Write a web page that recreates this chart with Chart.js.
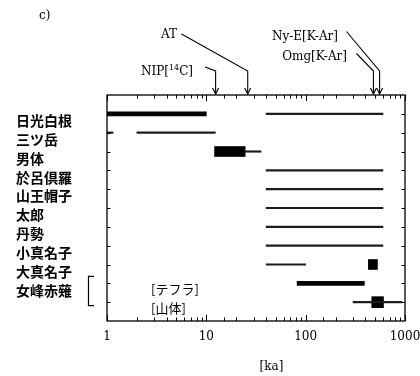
<!DOCTYPE html>
<html>
<head>
<meta charset="utf-8">
<script src="https://cdn.jsdelivr.net/npm/chart.js@4/dist/chart.umd.min.js"></script>
<style>
html,body{margin:0;padding:0;background:#fff;}
#wrap{width:420px;height:376px;position:relative;}
</style>
</head>
<body>
<div id="wrap"><canvas id="c" width="420" height="376"></canvas></div>
<script>
// ---- data ----
const rowNames = ['日光白根','三ツ岳','男体','於呂倶羅','山王帽子','太郎','丹勢','小真名子','大真名子','女峰赤薙',''];
// thin lines (age ranges, ka)
const thinRows  = [1, 2, 2, 3, 4, 5, 6, 7, 8, 9, 11];
const thinStart = [40, 1, 2.0, 24.5, 40, 40, 40, 40, 40, 40, 300];
const thinEnd   = [600, 1.15, 12.3, 35.5, 600, 600, 600, 600, 600, 100, 930];
// thick bars
const thickRows  = [1, 10];
const thickStart = [1, 82];
const thickEnd   = [10, 390];
// boxes
const boxRows  = [3, 9];
const boxStart = [12.1, 428];
const boxEnd   = [24.6, 528];
// 女峰赤薙 [山体] box
const bodyRows  = [11];
const bodyStart = [463];
const bodyEnd   = [607];
// dated markers at top
const markerNames = ['NIP[14C]', 'AT', 'Omg[K-Ar]', 'Ny-E[K-Ar]'];
const markerAges  = [12.4, 26.1, 481, 555];
const xTickLabels = [1, 10, 100, 1000];
const subLabels = ['[テフラ]', '[山体]'];
const subLabelRows = [10, 11];

function seg(rows, s, e){ return rows.map((r,i)=>({y:r, x:[s[i], e[i]]})); }

const SERIF = '"DejaVu Serif", serif';
const CJK = '"Noto Sans CJK JP", sans-serif';

const decor = {
  id: 'decor',
  afterDraw(chart){
    const ctx = chart.ctx;
    const a = chart.chartArea;
    const xs = chart.scales.x, ys = chart.scales.y;
    ctx.save();
    ctx.strokeStyle = '#000';
    ctx.fillStyle = '#000';
    // frame
    ctx.lineWidth = 1.3;
    ctx.strokeRect(a.left, a.top, a.right - a.left, a.bottom - a.top);
    // x ticks (inward, top & bottom)
    ctx.lineWidth = 1;
    xs.ticks.forEach(t => {
      const v = t.value;
      const lg = Math.log10(v);
      const major = Math.abs(lg - Math.round(lg)) < 1e-9;
      const len = major ? 6 : 3.5;
      const px = Math.round(xs.getPixelForValue(v)) + 0.5;
      ctx.beginPath();
      ctx.moveTo(px, a.bottom); ctx.lineTo(px, a.bottom - len);
      ctx.moveTo(px, a.top); ctx.lineTo(px, a.top + len);
      ctx.stroke();
    });
    // y ticks (inward, left & right)
    for (let r = 1; r <= rowNames.length; r++) {
      const py = Math.round(ys.getPixelForValue(r)) + 0.5;
      ctx.beginPath();
      ctx.moveTo(a.left, py); ctx.lineTo(a.left + 3.5, py);
      ctx.moveTo(a.right, py); ctx.lineTo(a.right - 3.5, py);
      ctx.stroke();
    }
    // bracket for 女峰赤薙
    const yb1 = ys.getPixelForValue(10) - 7, yb2 = ys.getPixelForValue(11) + 3.5;
    ctx.lineWidth = 1.2;
    ctx.beginPath();
    ctx.moveTo(94, yb1); ctx.lineTo(88.5, yb1); ctx.lineTo(88.5, yb2); ctx.lineTo(94, yb2);
    ctx.stroke();
    // sub labels
    ctx.font = '13px ' + CJK;
    ctx.textAlign = 'left';
    ctx.textBaseline = 'middle';
    subLabels.forEach((s, i) => {
      ctx.fillText(s, 151, ys.getPixelForValue(subLabelRows[i]) + 6);
    });
    // panel label
    ctx.font = '12px ' + SERIF;
    ctx.fillText('c)', 39, 15.5);
    // axis title
    ctx.textAlign = 'center';
    ctx.fillText('[ka]', 271.5, 366.5);
    // markers
    const layout = [
      {tx: 193, ty: 71.5, sx: 205, sy: 67},
      {tx: 177, ty: 35,   sx: 181.5, sy: 34},
      {tx: 347, ty: 56.5, sx: 356.5, sy: 53.5},
      {tx: 338, ty: 36.5, sx: 346.5, sy: 31.5}
    ];
    const bendY = 71;
    markerNames.forEach((name, i) => {
      const L = layout[i];
      const px = xs.getPixelForValue(markerAges[i]);
      ctx.textAlign = 'left';
      ctx.textBaseline = 'middle';
      const m = name.match(/^(.*\[)(\d+)(.*)$/);
      if (m) {
        ctx.font = '12px ' + SERIF;
        const w1 = ctx.measureText(m[1]).width;
        const w3 = ctx.measureText(m[3]).width;
        ctx.font = '8px ' + SERIF;
        const w2 = ctx.measureText(m[2]).width;
        let x = L.tx - (w1 + w2 + w3);
        ctx.font = '12px ' + SERIF;
        ctx.fillText(m[1], x, L.ty);
        ctx.font = '8px ' + SERIF;
        ctx.fillText(m[2], x + w1, L.ty - 4);
        ctx.font = '12px ' + SERIF;
        ctx.fillText(m[3], x + w1 + w2, L.ty);
      } else {
        ctx.font = '12px ' + SERIF;
        ctx.textAlign = 'right';
        ctx.fillText(name, L.tx, L.ty);
      }
      ctx.lineWidth = 1.1;
      ctx.beginPath();
      ctx.moveTo(L.sx, L.sy);
      ctx.lineTo(px, bendY);
      ctx.lineTo(px, a.top - 1);
      ctx.stroke();
      ctx.beginPath();
      ctx.moveTo(px - 3, a.top - 7);
      ctx.lineTo(px, a.top - 1);
      ctx.lineTo(px + 3, a.top - 7);
      ctx.stroke();
    });
    ctx.restore();
  }
};

new Chart(document.getElementById('c'), {
  type: 'bar',
  data: {
    datasets: [
      {data: seg(thinRows, thinStart, thinEnd), barThickness: 1.5, backgroundColor: '#1c1c1c', grouped: false, borderWidth: 0},
      {data: seg(thickRows, thickStart, thickEnd), barThickness: 4, backgroundColor: '#000', grouped: false, borderWidth: 0},
      {data: seg(boxRows, boxStart, boxEnd), barThickness: 10, backgroundColor: '#000', grouped: false, borderWidth: 0},
      {data: seg(bodyRows, bodyStart, bodyEnd), barThickness: 11, backgroundColor: '#000', grouped: false, borderWidth: 0}
    ]
  },
  options: {
    indexAxis: 'y',
    responsive: false,
    animation: false,
    devicePixelRatio: 1,
    layout: {padding: {left: 16, right: 15, top: 95, bottom: 0}},
    plugins: {legend: {display: false}, tooltip: {enabled: false}},
    scales: {
      x: {
        type: 'logarithmic', position: 'bottom', min: 1, max: 1000,
        grid: {display: false, drawTicks: false}, border: {display: false},
        ticks: {
          autoSkip: false, maxRotation: 0, minRotation: 0, padding: 9, color: '#000',
          font: {family: SERIF, size: 12},
          callback: (v) => xTickLabels.includes(Math.round(v * 1000) / 1000) ? String(v) : ''
        },
        afterFit: (s) => { s.height = 55; s.paddingLeft = 0; s.paddingRight = 0; }
      },
      y: {
        type: 'linear', min: 0, max: 12, reverse: true, offset: false,
        grid: {display: false, drawTicks: false, offset: false}, border: {display: false},
        ticks: {
          stepSize: 1, autoSkip: false, crossAlign: 'far', labelOffset: 7, padding: 0, color: '#000',
          font: {family: CJK, size: 14, weight: 'bold'},
          callback: (v) => (v >= 1 && v <= rowNames.length) ? rowNames[v - 1] : ''
        },
        afterFit: (s) => { s.width = 91; s.paddingTop = 0; s.paddingBottom = 0; }
      }
    }
  },
  plugins: [decor]
});
</script>
</body>
</html>
